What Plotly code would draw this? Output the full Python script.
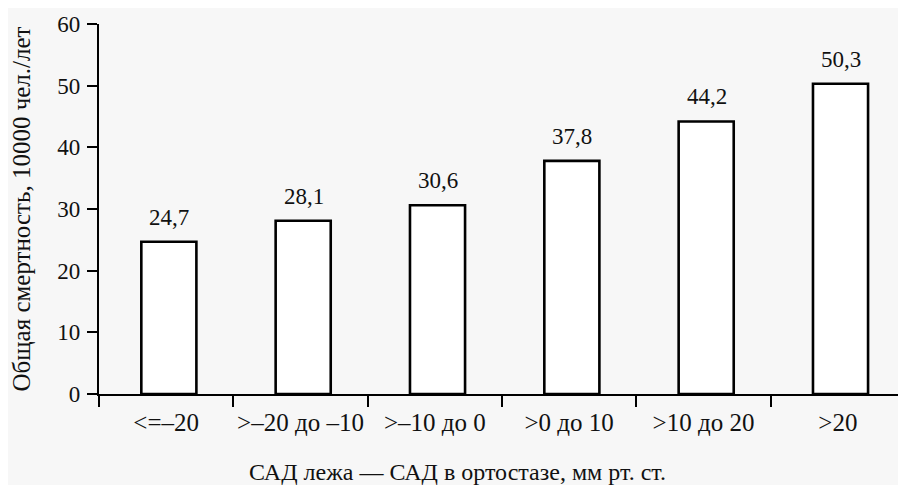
import plotly.graph_objects as go

categories = ["<=–20", ">–20 до –10", ">–10 до 0", ">0 до 10", ">10 до 20", ">20"]
values = [24.7, 28.1, 30.6, 37.8, 44.2, 50.3]
value_labels = ["24,7", "28,1", "30,6", "37,8", "44,2", "50,3"]
y_ticks = [0, 10, 20, 30, 40, 50, 60]

FONT = "Liberation Serif"
INK = "#111"

fig = go.Figure()
fig.add_trace(go.Bar(
    x=categories, y=values,
    width=0.41, offset=-0.185,
    marker=dict(color="white", line=dict(color="black", width=2.6)),
    cliponaxis=False,
))

# value labels above bars, anchored to data coordinates
annotations = [
    dict(x=c, y=v, xref="x", yref="y", text=t, showarrow=False,
         xanchor="center", yanchor="bottom", xshift=3, yshift=10,
         font=dict(family=FONT, size=23, color=INK))
    for c, v, t in zip(categories, values, value_labels)
]

# page has an 8px body margin; compensate so the figure fills 906x485
OFF = 8
W, H = 906 - OFF, 485 - OFF
TOP, BOT = 24, 394
L, R, T, B = 99 - OFF, 1, TOP - OFF, 485 - BOT

annotations.append(dict(
    text="САД лежа — САД в ортостазе, мм рт. ст.",
    xref="paper", yref="paper",
    x=(457 - OFF - L) / (W - L - R),
    y=-(472 - BOT) / (BOT - TOP),
    xanchor="center", yanchor="middle", showarrow=False,
    font=dict(family=FONT, size=24, color=INK),
))

fig.update_layout(
    width=W, height=H,
    margin=dict(l=L, r=R, t=T, b=B),
    paper_bgcolor="#f7f7f7", plot_bgcolor="#f7f7f7",
    showlegend=False,
    font=dict(family=FONT, color=INK),
    xaxis=dict(
        type="category", range=[-0.5, 5.5],
        showline=True, linecolor="black", linewidth=2.2,
        ticks="outside", tickson="boundaries", ticklen=11, tickwidth=1.5, tickcolor="black",
        ticklabelstandoff=5, tickangle=0, automargin=False,
        tickfont=dict(family=FONT, size=25, color=INK),
        showgrid=False, zeroline=False,
    ),
    yaxis=dict(
        range=[0, 60], tickvals=y_ticks,
        showline=True, linecolor="black", linewidth=2.2,
        ticks="outside", ticklen=10, tickwidth=1.5, tickcolor="black",
        ticklabelstandoff=2,
        tickfont=dict(family=FONT, size=23, color=INK),
        showgrid=False, zeroline=False, automargin=False,
        title=dict(text="Общая смертность, 10000 чел./лет",
                   font=dict(family=FONT, size=25, color=INK), standoff=22),
    ),
    annotations=annotations,
)

fig.write_html("out.html")
